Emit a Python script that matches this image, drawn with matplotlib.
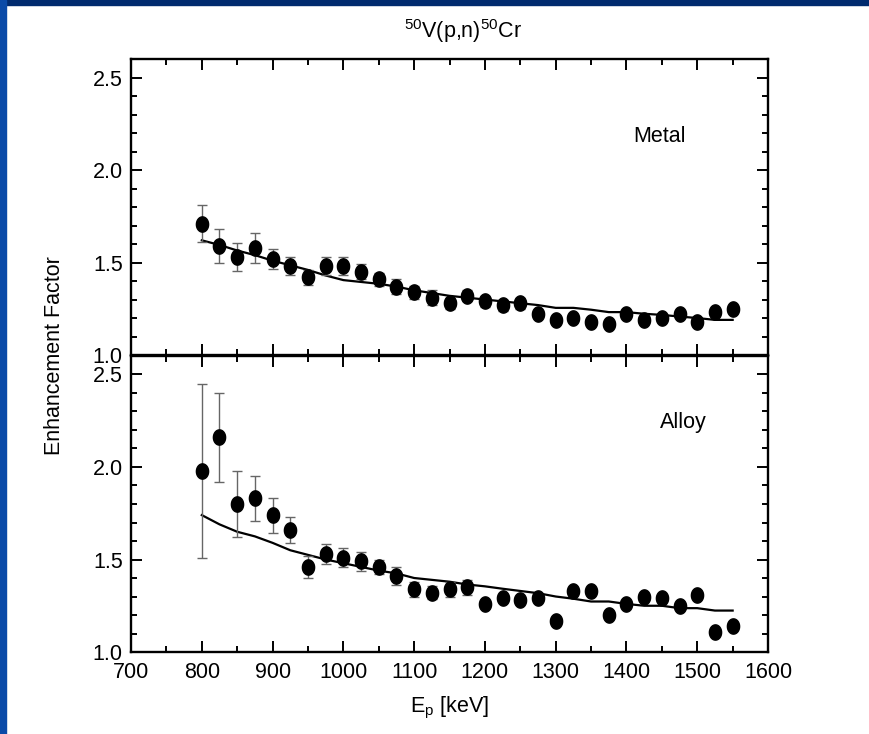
import numpy as np
import matplotlib.pyplot as plt
from matplotlib.path import Path
from matplotlib.patches import Rectangle
from matplotlib.ticker import MultipleLocator

plt.rcParams['font.family'] = ['Liberation Sans', 'DejaVu Sans']
plt.rcParams['mathtext.fontset'] = 'custom'
plt.rcParams['mathtext.rm'] = 'Liberation Sans'
plt.rcParams['mathtext.it'] = 'Liberation Sans'

# energie (keV)
ep = [800, 825, 850, 875, 900, 925, 950, 975, 1000, 1025, 1050, 1075, 1100,
      1125, 1150, 1175, 1200, 1225, 1250, 1275, 1300, 1325, 1350, 1375, 1400,
      1425, 1450, 1475, 1500, 1525, 1550]

# Metal
metal = [1.71, 1.59, 1.53, 1.58, 1.52, 1.48, 1.42, 1.48, 1.48, 1.45, 1.41,
         1.37, 1.34, 1.31, 1.28, 1.32, 1.29, 1.27, 1.28, 1.22, 1.19, 1.20,
         1.18, 1.17, 1.22, 1.19, 1.20, 1.22, 1.18, 1.23, 1.25]
metal_err = [0.10, 0.09, 0.075, 0.08, 0.055, 0.05, 0.04, 0.05, 0.05, 0.04,
             0.035, 0.04, 0.035, 0.04, 0.03, 0.03, 0.03, 0.03, 0.03, 0.02,
             0.02, 0.02, 0.02, 0.02, 0.02, 0.02, 0.02, 0.02, 0.02, 0.02, 0.02]
metal_calc = [1.62, 1.595, 1.565, 1.54, 1.51, 1.485, 1.46, 1.43, 1.405, 1.395,
              1.385, 1.37, 1.35, 1.335, 1.32, 1.31, 1.30, 1.29, 1.28, 1.27,
              1.255, 1.255, 1.245, 1.232, 1.232, 1.223, 1.217, 1.208, 1.20,
              1.19, 1.19]

# Alloy
alloy = [1.98, 2.16, 1.80, 1.83, 1.74, 1.66, 1.46, 1.53, 1.51, 1.49, 1.46,
         1.41, 1.34, 1.32, 1.34, 1.35, 1.26, 1.29, 1.28, 1.29, 1.17, 1.33,
         1.33, 1.20, 1.26, 1.30, 1.29, 1.25, 1.31, 1.11, 1.14]
alloy_err = [0.47, 0.24, 0.18, 0.12, 0.095, 0.07, 0.06, 0.055, 0.05, 0.05,
             0.04, 0.05, 0.04, 0.035, 0.04, 0.04, 0.02, 0.02, 0.02, 0.02,
             0.02, 0.02, 0.02, 0.02, 0.02, 0.02, 0.02, 0.02, 0.02, 0.02, 0.02]
alloy_calc = [1.74, 1.69, 1.65, 1.625, 1.59, 1.55, 1.525, 1.50, 1.48, 1.46,
              1.44, 1.425, 1.40, 1.39, 1.38, 1.365, 1.355, 1.342, 1.33, 1.318,
              1.30, 1.288, 1.273, 1.273, 1.26, 1.25, 1.25, 1.237, 1.237,
              1.224, 1.224]

panels = [("Metal", metal, metal_err, metal_calc, (1447, 2.18)),
          ("Alloy", alloy, alloy_err, alloy_calc, (1480, 2.24))]

fs = 15.5

# marker elips (lebih tinggi dari lebar)
t = np.linspace(0, 2 * np.pi, 60)
ellipse = Path(np.column_stack([0.8 * np.cos(t), np.sin(t)]), closed=True)

fig = plt.figure(figsize=(8.7, 7.34), dpi=100)

# bingkai biru slide
fig.patches.append(Rectangle((0, 0.993), 1, 0.007, transform=fig.transFigure,
                             color='#002a6e', zorder=0))
fig.patches.append(Rectangle((0, 0), 0.007, 1, transform=fig.transFigure,
                             color='#0a4aa8', zorder=0))

left, right = 0.1506, 0.8828
bottoms = [0.5163, 0.1117]
height = 0.9196 - 0.5163

axes = []
for i, (name, y, yerr, calc, pos) in enumerate(panels):
    ax = fig.add_axes([left, bottoms[i], right - left, height])
    axes.append(ax)
    ax.plot(ep, calc, color='black', lw=1.6, zorder=2)
    ax.errorbar(ep, y, yerr=yerr, fmt='none', ecolor='#666666', elinewidth=1,
                capsize=3.5, capthick=1, zorder=3)
    ax.plot(ep, y, ls='none', marker=ellipse, ms=11, color='black', zorder=4)
    ax.text(pos[0], pos[1], name, fontsize=fs, ha='center', va='center')

    ax.set_xlim(700, 1600)
    ax.set_ylim(1.0, 2.6)
    ax.xaxis.set_major_locator(MultipleLocator(100))
    ax.xaxis.set_minor_locator(MultipleLocator(50))
    ax.yaxis.set_major_locator(MultipleLocator(0.5))
    ax.yaxis.set_minor_locator(MultipleLocator(0.1))
    ax.tick_params(which='both', direction='in', top=True, right=True,
                   width=1.4, labelsize=fs)
    ax.tick_params(which='major', length=8, pad=6)
    ax.tick_params(which='minor', length=4.5)
    ax.tick_params(axis='x', pad=7)
    for s in ax.spines.values():
        s.set_linewidth(1.7)
    ax.yaxis.set_major_formatter(plt.FormatStrFormatter('%.1f'))

axes[0].tick_params(labelbottom=False)
axes[1].set_xlabel(r'E$_\mathregular{p}$ [keV]', fontsize=fs, labelpad=9)

fig.text(0.063, 0.516, 'Enhancement Factor', rotation=90, fontsize=fs,
         ha='center', va='center')
fig.text(0.532, 0.958, r'$^{50}$V(p,n)$^{50}$Cr', fontsize=fs,
         ha='center', va='center')

plt.savefig('out.png', dpi=100)
